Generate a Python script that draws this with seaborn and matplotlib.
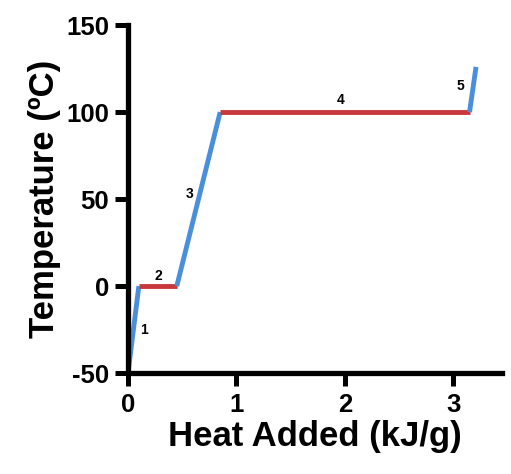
import matplotlib
matplotlib.use("Agg")
import matplotlib.pyplot as plt
import seaborn as sns
import pandas as pd

sns.set_style("ticks")
plt.rcParams['font.family'] = ['Liberation Sans', 'DejaVu Sans']
plt.rcParams['axes.unicode_minus'] = False
plt.rcParams['text.color'] = 'black'
plt.rcParams['axes.labelcolor'] = 'black'
plt.rcParams['xtick.color'] = 'black'
plt.rcParams['ytick.color'] = 'black'

# Segment endpoints (heat added kJ/g, temperature °C)
seg_x = [[0.0, 0.10], [0.10, 0.45], [0.45, 0.85], [0.85, 3.15], [3.15, 3.21]]
seg_y = [[-50, 0], [0, 0], [0, 100], [100, 100], [100, 126]]
seg_phase = ["heat", "melt", "heat", "boil", "heat"]
seg_labels = ["1", "2", "3", "4", "5"]
label_x = [0.15, 0.28, 0.57, 1.96, 3.07]
label_y = [-25, 6, 53, 107, 115]

colors = {"heat": "#4a8fdb", "melt": "#c8383c", "boil": "#c8383c"}

fig = plt.figure(figsize=(5.11, 4.74), dpi=100)
ax = fig.add_axes([0.2505, 0.213, 0.732, 0.734])

for i, (xs, ys) in enumerate(zip(seg_x, seg_y)):
    df = pd.DataFrame({"x": xs, "y": ys})
    sns.lineplot(data=df, x="x", y="y", ax=ax, color=colors[seg_phase[i]],
                 linewidth=3.5, solid_capstyle="butt", sort=False, estimator=None)

for lx, ly, t in zip(label_x, label_y, seg_labels):
    ax.text(lx, ly, t, fontsize=10, fontweight="bold", ha="center", va="center",
            color="black")

ax.set_xlim(0, 3.45)
ax.set_ylim(-50, 150)
ax.set_xticks([0, 1, 2, 3])
ax.set_yticks([-50, 0, 50, 100, 150])
ax.set_xlabel("Heat Added (kJ/g)", fontsize=25, fontweight="bold", labelpad=2)
ax.set_ylabel("Temperature (ºC)", fontsize=25, fontweight="bold", labelpad=4)
for lab in ax.get_xticklabels() + ax.get_yticklabels():
    lab.set_fontweight("bold")
    lab.set_fontsize(18.5)
ax.tick_params(width=3.6, length=9.5, color="black")
ax.tick_params(axis="y", pad=4)
ax.tick_params(axis="x", pad=5)
sns.despine(ax=ax)
for s in ["left", "bottom"]:
    ax.spines[s].set_linewidth(3.8)
    ax.spines[s].set_color("black")

fig.savefig("out.png", dpi=100)
